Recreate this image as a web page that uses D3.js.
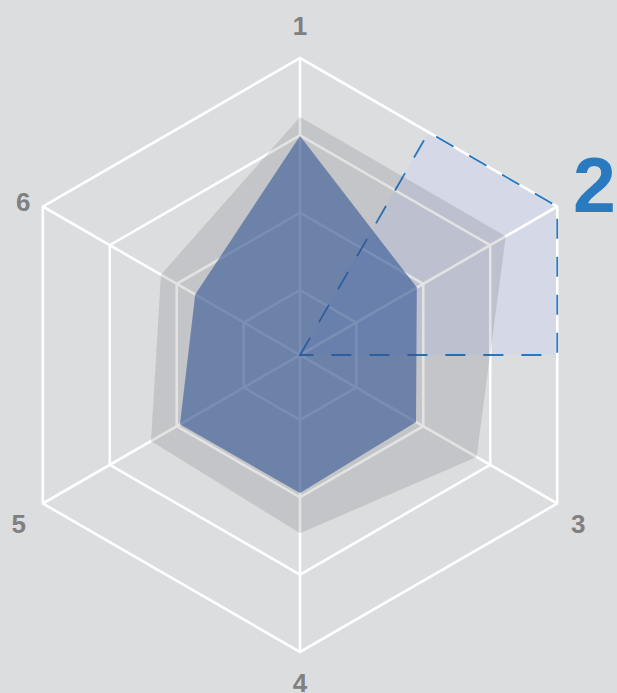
<!DOCTYPE html>
<html>
<head>
<meta charset="utf-8">
<script src="https://cdn.jsdelivr.net/npm/d3@7/dist/d3.min.js"></script>
<style>
  html, body { margin: 0; padding: 0; background: #dcdddf; }
  svg { display: block; }
</style>
</head>
<body>
<svg id="chart" width="617" height="693"></svg>
<script>
// ---- data ----
const axes = ["1", "2", "3", "4", "5", "6"];
const levels = [25, 50, 75, 100];
const seriesGray = [80.9, 80.8, 69.9, 61.6, 59.6, 55.9];
const seriesBlue = [74.8, 47.6, 47.3, 48.6, 48.8, 43.1];
const selectedAxis = "2";

// ---- layout ----
const W = 617, H = 693;
const cx = 300, cy = 355, R = 297;
const svg = d3.select("#chart");

const r = d3.scaleLinear().domain([4, 100]).range([0, R]);
const angle = d3.scalePoint().domain(axes).range([0, 2 * Math.PI * (axes.length - 1) / axes.length]);
const pt = (a, rad) => [cx + rad * Math.sin(a), cy - rad * Math.cos(a)];

const g = svg.append("g");

// ---- highlight sector for selected axis ----
const step = 2 * Math.PI / axes.length;
const aSel = angle(selectedAxis);
const vSel = pt(aSel, r(100));
const vPrev = pt(aSel - step, r(100));
const vNext = pt(aSel + step, r(100));
const mid = (p, q) => [(p[0] + q[0]) / 2, (p[1] + q[1]) / 2];
const hl = [[cx, cy], mid(vPrev, vSel), vSel, mid(vSel, vNext)];
g.append("path")
  .attr("d", d3.line()(hl) + "Z")
  .attr("fill", "rgb(206,214,236)")
  .attr("fill-opacity", 0.6)
  .attr("stroke", "none");

// ---- grid ----
levels.forEach(l => {
  const poly = axes.map(a => pt(angle(a), r(l)));
  g.append("path")
    .attr("d", d3.line()(poly) + "Z")
    .attr("fill", "none")
    .attr("stroke", "#ffffff")
    .attr("stroke-width", 2.6)
    .attr("stroke-linejoin", "miter");
});
axes.forEach(a => {
  const p = pt(angle(a), r(100));
  g.append("line")
    .attr("x1", cx).attr("y1", cy)
    .attr("x2", p[0]).attr("y2", p[1])
    .attr("stroke", "#ffffff")
    .attr("stroke-width", 2.6);
});

// dashed outline of highlight
g.append("path")
  .attr("d", d3.line()(hl) + "Z")
  .attr("fill", "none")
  .attr("stroke", "#2a78c0")
  .attr("stroke-width", 1.8)
  .attr("stroke-dasharray", "20,18");

// ---- series areas ----
const radar = d3.lineRadial()
  .angle((d, i) => angle(axes[i]))
  .radius(d => r(d))
  .curve(d3.curveLinearClosed);

const ga = g.append("g").attr("transform", `translate(${cx},${cy})`);
ga.append("path")
  .datum(seriesGray)
  .attr("d", radar)
  .attr("fill", "rgb(40,40,50)")
  .attr("fill-opacity", 0.13)
  .attr("stroke", "none");
ga.append("path")
  .datum(seriesBlue)
  .attr("d", radar)
  .attr("fill", "rgb(50,85,148)")
  .attr("fill-opacity", 0.6)
  .attr("stroke", "none");

// ---- axis labels ----
const labelR = { "1": 329, "2": 340, "3": 326, "4": 328, "5": 327, "6": 322 };
const labelDy = { "1": 0, "2": 0, "3": 6, "4": 0, "5": 5, "6": 8 };
const labelDx = { "1": 0, "2": 0, "3": -4, "4": 0, "5": 2, "6": 2 };
axes.forEach(a => {
  const sel = a === selectedAxis;
  const p = pt(angle(a), labelR[a]);
  svg.append("text")
    .attr("x", p[0] + labelDx[a]).attr("y", p[1] + labelDy[a])
    .attr("text-anchor", "middle")
    .attr("dominant-baseline", "central")
    .attr("font-family", "'Liberation Sans', Arial, Helvetica, sans-serif")
    .attr("font-weight", "bold")
    .attr("font-size", sel ? 77 : 26)
    .attr("fill", sel ? "#2a7abf" : "#808080")
    .text(a);
});
</script>
</body>
</html>
